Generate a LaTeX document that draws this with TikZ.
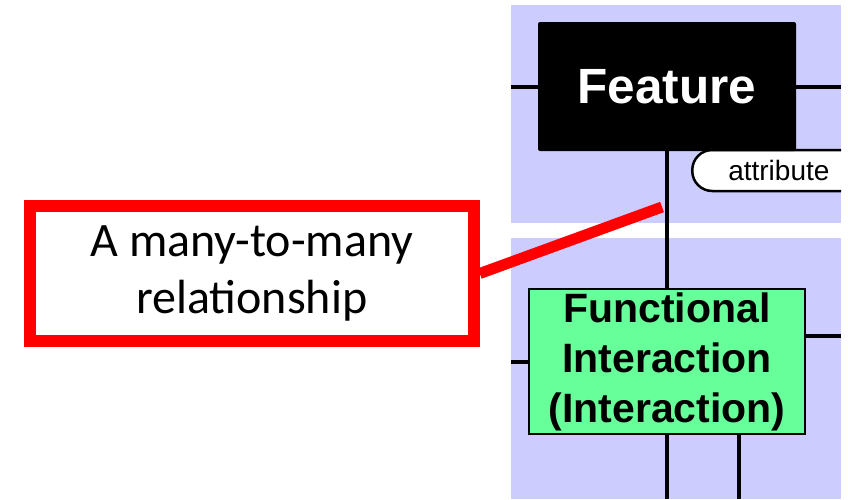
\documentclass[tikz,border=0pt]{standalone}
\usepackage{fontspec}
\setmainfont{Liberation Sans}
\newfontfamily\calloutfont{Carlito}
\definecolor{panel}{RGB}{204,204,255}
\definecolor{interact}{RGB}{102,255,153}

\tikzset{
	link/.style={line width=4pt},
	feature/.style={fill=black, rounded corners=2pt, minimum width=258pt, minimum height=129pt, text=white, font=\bfseries\fontsize{49.5}{59}\selectfont},
	interaction/.style={draw=black, fill=interact, line width=2.5pt, minimum width=276pt, minimum height=145pt, inner sep=0pt, align=center, font=\bfseries\fontsize{41}{50}\selectfont},
	attrbox/.style={draw=black, fill=white, line width=2.5pt, rounded corners=20pt, minimum height=41pt, inner xsep=36pt, font=\fontsize{28}{34}\selectfont},
	callout/.style={draw=red, line width=12pt, minimum width=444pt, minimum height=135pt, align=center, font=\calloutfont\fontsize{48}{57}\selectfont}
}

\begin{document}
\begin{tikzpicture}[x=1pt,y=-1pt]

	\useasboundingbox (0,0) rectangle (848,499);
	\fill[panel] (511,5) rectangle (841,223);
	\fill[panel] (511,238) rectangle (841,499);
	\coordinate (pl) at (511,0);
	\coordinate (pr) at (841,0);
	\coordinate (pb) at (0,499);

	\begin{scope}
		\clip (511,5) rectangle (841,223);
		\node[attrbox, anchor=west] (attr) at (691,170.5) {attribute};
	\end{scope}

	\node[feature] (feature) at (667,86.5) {Feature};
	\node[interaction] (interaction) at (667,361.5) {Functional\\Interaction\\(Interaction)};

	\draw[link] (feature.west) -- (feature.west -| pl);
	\draw[link] (feature.east) -- (feature.east -| pr);
	\draw[link] (feature.south) -- (interaction.north);
	\draw[link] (interaction.west) -- (interaction.west -| pl);
	\draw[link] ([yshift=25.5pt]interaction.east) -- ([yshift=25.5pt]interaction.east -| pr);
	\draw[link] (interaction.south) -- (interaction.south |- pb);
	\draw[link] ([xshift=72pt]interaction.south) -- ([xshift=72pt]interaction.south |- pb);

	\node[callout] (note) at (251.75,273.5) {A many-to-many\\relationship};
	\coordinate (tip) at (662,207);
	\draw[red, line width=11pt] (note.east) -- (tip);
\end{tikzpicture}
\end{document}
